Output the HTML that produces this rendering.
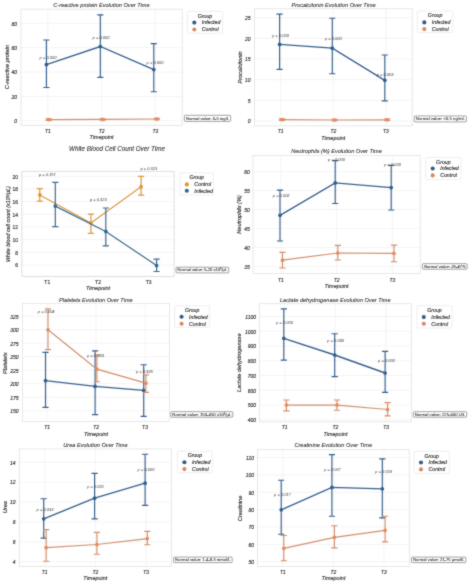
<!DOCTYPE html>
<html><head><meta charset="utf-8"><style>
html,body{margin:0;padding:0;background:#fff;}
svg{display:block;font-family:"Liberation Sans", sans-serif;}
text{stroke:#333;stroke-width:0.14px;}
</style></head><body>
<svg width="470" height="584" viewBox="0 0 470 584">
<defs><filter id="bl" x="0" y="0" width="470" height="584" filterUnits="userSpaceOnUse" color-interpolation-filters="sRGB"><feConvolveMatrix order="3" kernelMatrix="1 2 1 2 16 2 1 2 1" preserveAlpha="false" edgeMode="duplicate"/></filter></defs>
<rect width="470" height="584" fill="#fff"/>
<g filter="url(#bl)">
<rect width="470" height="584" fill="#fff"/>
<line x1="21" y1="120.8" x2="182.2" y2="120.8" stroke="#ededed" stroke-width="0.6"/>
<line x1="21" y1="96.45" x2="182.2" y2="96.45" stroke="#ededed" stroke-width="0.6"/>
<line x1="21" y1="72.1" x2="182.2" y2="72.1" stroke="#ededed" stroke-width="0.6"/>
<line x1="21" y1="47.75" x2="182.2" y2="47.75" stroke="#ededed" stroke-width="0.6"/>
<line x1="21" y1="23.4" x2="182.2" y2="23.4" stroke="#ededed" stroke-width="0.6"/>
<line x1="47.87" y1="9.2" x2="47.87" y2="125.3" stroke="#ededed" stroke-width="0.6"/>
<line x1="101.6" y1="9.2" x2="101.6" y2="125.3" stroke="#ededed" stroke-width="0.6"/>
<line x1="155.33" y1="9.2" x2="155.33" y2="125.3" stroke="#ededed" stroke-width="0.6"/>
<rect x="21" y="9.2" width="161.2" height="116.1" fill="none" stroke="#dedede" stroke-width="0.7"/>
<text transform="translate(17,123.1) scale(1,1.12)" text-anchor="end" font-size="5.0" font-style="italic" fill="#333333">0</text>
<text transform="translate(17,98.75) scale(1,1.12)" text-anchor="end" font-size="5.0" font-style="italic" fill="#333333">20</text>
<text transform="translate(17,74.4) scale(1,1.12)" text-anchor="end" font-size="5.0" font-style="italic" fill="#333333">40</text>
<text transform="translate(17,50.05) scale(1,1.12)" text-anchor="end" font-size="5.0" font-style="italic" fill="#333333">60</text>
<text transform="translate(17,25.7) scale(1,1.12)" text-anchor="end" font-size="5.0" font-style="italic" fill="#333333">80</text>
<text transform="translate(47.87,133) scale(1,1.12)" text-anchor="middle" font-size="5.0" font-style="italic" fill="#333333">T1</text>
<text transform="translate(101.6,133) scale(1,1.12)" text-anchor="middle" font-size="5.0" font-style="italic" fill="#333333">T2</text>
<text transform="translate(155.33,133) scale(1,1.12)" text-anchor="middle" font-size="5.0" font-style="italic" fill="#333333">T3</text>
<text transform="translate(101.6,138.6) scale(1,1.12)" text-anchor="middle" font-size="5.5" font-style="italic" fill="#333333">Timepoint</text>
<text transform="translate(8.5,67.25) rotate(-90) scale(1,1.12)" text-anchor="middle" font-size="5.6" font-style="italic" fill="#333333">C-reactive protein</text>
<text transform="translate(101.4,7.4) scale(1,1.12)" text-anchor="middle" font-size="5.6" font-style="italic" fill="#2a2a2a" style="stroke:#333;stroke-width:0.07px">C-reactive protein Evolution Over Time</text>
<path d="M46.4,40 L46.4,87.5 M43.3,40 L49.5,40 M43.3,87.5 L49.5,87.5 M100.3,14.8 L100.3,77.4 M97.2,14.8 L103.4,14.8 M97.2,77.4 L103.4,77.4 M153.8,43.6 L153.8,91.7 M150.7,43.6 L156.9,43.6 M150.7,91.7 L156.9,91.7" fill="none" stroke="#36608e" stroke-width="1.15"/>
<path d="M46.4,64.6 L100.3,46.5 L153.8,69.6" fill="none" stroke="#36608e" stroke-width="1.35"/>
<circle cx="46.4" cy="64.6" r="1.85" fill="#2e5d90"/>
<circle cx="100.3" cy="46.5" r="1.85" fill="#2e5d90"/>
<circle cx="153.8" cy="69.6" r="1.85" fill="#2e5d90"/>
<path d="M48.7,118.9 L48.7,120.3 M45.6,118.9 L51.8,118.9 M45.6,120.3 L51.8,120.3 M102.6,118.7 L102.6,120.1 M99.5,118.7 L105.7,118.7 M99.5,120.1 L105.7,120.1 M156.8,118.3 L156.8,119.7 M153.7,118.3 L159.9,118.3 M153.7,119.7 L159.9,119.7" fill="none" stroke="#d38f6b" stroke-width="1.15"/>
<path d="M48.7,119.6 L102.6,119.4 L156.8,119" fill="none" stroke="#d38f6b" stroke-width="1.2"/>
<circle cx="48.7" cy="119.6" r="1.85" fill="#e68a5c"/>
<circle cx="102.6" cy="119.4" r="1.85" fill="#e68a5c"/>
<circle cx="156.8" cy="119" r="1.85" fill="#e68a5c"/>
<text transform="translate(48,58.6) scale(1,0.95)" text-anchor="middle" font-size="4.0" font-style="italic" fill="#3a3a3a" style="stroke:none">p = 0.000</text>
<text transform="translate(101,39.2) scale(1,0.95)" text-anchor="middle" font-size="4.0" font-style="italic" fill="#3a3a3a" style="stroke:none">p = 0.000</text>
<text transform="translate(155,64) scale(1,0.95)" text-anchor="middle" font-size="4.0" font-style="italic" fill="#3a3a3a" style="stroke:none">p = 0.000</text>
<rect x="187.4" y="11.4" width="35.2" height="21.8" rx="1" fill="#fff" stroke="#e2e2e2" stroke-width="0.6"/>
<text transform="translate(205,17.5) scale(1,1.12)" text-anchor="middle" font-size="5.2" font-style="italic" fill="#333333">Group</text>
<circle cx="194.3" cy="22.6" r="2.05" fill="#335a85"/>
<text transform="translate(201.8,24.4) scale(1,1.12)" font-size="5.2" font-style="italic" fill="#333333">Infected</text>
<circle cx="194.3" cy="29.5" r="2.05" fill="#d68862"/>
<text transform="translate(201.8,31.3) scale(1,1.12)" font-size="5.2" font-style="italic" fill="#333333">Control</text>
<rect x="184.4" y="115.3" width="46.2" height="6.1" rx="0.9" fill="#fff" stroke="#555" stroke-width="0.55"/>
<text transform="translate(207.5,119.65) scale(1,1.0)" text-anchor="middle" font-size="3.9" font-style="normal" textLength="43.2" lengthAdjust="spacingAndGlyphs" fill="#222" style="stroke:#333;stroke-width:0.06px">Normal value: 0-5 mg/L</text>
<line x1="254.4" y1="121" x2="412.2" y2="121" stroke="#ededed" stroke-width="0.6"/>
<line x1="254.4" y1="100.34" x2="412.2" y2="100.34" stroke="#ededed" stroke-width="0.6"/>
<line x1="254.4" y1="79.68" x2="412.2" y2="79.68" stroke="#ededed" stroke-width="0.6"/>
<line x1="254.4" y1="59.02" x2="412.2" y2="59.02" stroke="#ededed" stroke-width="0.6"/>
<line x1="254.4" y1="38.36" x2="412.2" y2="38.36" stroke="#ededed" stroke-width="0.6"/>
<line x1="254.4" y1="17.7" x2="412.2" y2="17.7" stroke="#ededed" stroke-width="0.6"/>
<line x1="280.7" y1="8.8" x2="280.7" y2="125.9" stroke="#ededed" stroke-width="0.6"/>
<line x1="333.3" y1="8.8" x2="333.3" y2="125.9" stroke="#ededed" stroke-width="0.6"/>
<line x1="385.9" y1="8.8" x2="385.9" y2="125.9" stroke="#ededed" stroke-width="0.6"/>
<rect x="254.4" y="8.8" width="157.8" height="117.1" fill="none" stroke="#dedede" stroke-width="0.7"/>
<text transform="translate(250.6,123.3) scale(1,1.12)" text-anchor="end" font-size="5.0" font-style="italic" fill="#333333">0</text>
<text transform="translate(250.6,102.64) scale(1,1.12)" text-anchor="end" font-size="5.0" font-style="italic" fill="#333333">5</text>
<text transform="translate(250.6,81.98) scale(1,1.12)" text-anchor="end" font-size="5.0" font-style="italic" fill="#333333">10</text>
<text transform="translate(250.6,61.32) scale(1,1.12)" text-anchor="end" font-size="5.0" font-style="italic" fill="#333333">15</text>
<text transform="translate(250.6,40.66) scale(1,1.12)" text-anchor="end" font-size="5.0" font-style="italic" fill="#333333">20</text>
<text transform="translate(250.6,20) scale(1,1.12)" text-anchor="end" font-size="5.0" font-style="italic" fill="#333333">25</text>
<text transform="translate(280.7,132.8) scale(1,1.12)" text-anchor="middle" font-size="5.0" font-style="italic" fill="#333333">T1</text>
<text transform="translate(333.3,132.8) scale(1,1.12)" text-anchor="middle" font-size="5.0" font-style="italic" fill="#333333">T2</text>
<text transform="translate(385.9,132.8) scale(1,1.12)" text-anchor="middle" font-size="5.0" font-style="italic" fill="#333333">T3</text>
<text transform="translate(333.3,139.6) scale(1,1.12)" text-anchor="middle" font-size="5.5" font-style="italic" fill="#333333">Timepoint</text>
<text transform="translate(241.9,67.4) rotate(-90) scale(1,1.12)" text-anchor="middle" font-size="5.6" font-style="italic" fill="#333333">Procalcitonin</text>
<text transform="translate(333.6,6.6) scale(1,1.12)" text-anchor="middle" font-size="5.6" font-style="italic" fill="#2a2a2a" style="stroke:#333;stroke-width:0.07px">Procalcitonin Evolution Over Time</text>
<path d="M279.6,14.1 L279.6,69.3 M276.5,14.1 L282.7,14.1 M276.5,69.3 L282.7,69.3 M332.3,18.2 L332.3,73.7 M329.2,18.2 L335.4,18.2 M329.2,73.7 L335.4,73.7 M384.8,55 L384.8,100.8 M381.7,55 L387.9,55 M381.7,100.8 L387.9,100.8" fill="none" stroke="#36608e" stroke-width="1.15"/>
<path d="M279.6,44.4 L332.3,48.2 L384.8,80.3" fill="none" stroke="#36608e" stroke-width="1.35"/>
<circle cx="279.6" cy="44.4" r="1.85" fill="#2e5d90"/>
<circle cx="332.3" cy="48.2" r="1.85" fill="#2e5d90"/>
<circle cx="384.8" cy="80.3" r="1.85" fill="#2e5d90"/>
<path d="M282,118.9 L282,120.3 M278.9,118.9 L285.1,118.9 M278.9,120.3 L285.1,120.3 M334.6,119.3 L334.6,120.7 M331.5,119.3 L337.7,119.3 M331.5,120.7 L337.7,120.7 M387.2,119.1 L387.2,120.5 M384.1,119.1 L390.3,119.1 M384.1,120.5 L390.3,120.5" fill="none" stroke="#d38f6b" stroke-width="1.15"/>
<path d="M282,119.6 L334.6,120 L387.2,119.8" fill="none" stroke="#d38f6b" stroke-width="1.2"/>
<circle cx="282" cy="119.6" r="1.85" fill="#e68a5c"/>
<circle cx="334.6" cy="120" r="1.85" fill="#e68a5c"/>
<circle cx="387.2" cy="119.8" r="1.85" fill="#e68a5c"/>
<text transform="translate(280.6,36.8) scale(1,0.95)" text-anchor="middle" font-size="4.0" font-style="italic" fill="#3a3a3a" style="stroke:none">p = 0.000</text>
<text transform="translate(333.4,40.4) scale(1,0.95)" text-anchor="middle" font-size="4.0" font-style="italic" fill="#3a3a3a" style="stroke:none">p = 0.000</text>
<text transform="translate(385.1,75.8) scale(1,0.95)" text-anchor="middle" font-size="4.0" font-style="italic" fill="#3a3a3a" style="stroke:none">p = 0.003</text>
<rect x="417.4" y="11.1" width="35.4" height="21.5" rx="1" fill="#fff" stroke="#e2e2e2" stroke-width="0.6"/>
<text transform="translate(435.1,16.9) scale(1,1.12)" text-anchor="middle" font-size="5.2" font-style="italic" fill="#333333">Group</text>
<circle cx="424.3" cy="22.4" r="2.05" fill="#335a85"/>
<text transform="translate(431.8,24.2) scale(1,1.12)" font-size="5.2" font-style="italic" fill="#333333">Infected</text>
<circle cx="424.3" cy="29.1" r="2.05" fill="#d68862"/>
<text transform="translate(431.8,30.9) scale(1,1.12)" font-size="5.2" font-style="italic" fill="#333333">Control</text>
<rect x="414.3" y="116" width="52.1" height="5.9" rx="0.9" fill="#fff" stroke="#555" stroke-width="0.55"/>
<text transform="translate(440.35,120.25) scale(1,1.0)" text-anchor="middle" font-size="3.9" font-style="normal" textLength="49.1" lengthAdjust="spacingAndGlyphs" fill="#222" style="stroke:#333;stroke-width:0.06px">Normal value: &lt;0.5 ng/mL</text>
<line x1="21.9" y1="265.1" x2="174.1" y2="265.1" stroke="#ededed" stroke-width="0.6"/>
<line x1="21.9" y1="252.4" x2="174.1" y2="252.4" stroke="#ededed" stroke-width="0.6"/>
<line x1="21.9" y1="239.7" x2="174.1" y2="239.7" stroke="#ededed" stroke-width="0.6"/>
<line x1="21.9" y1="227" x2="174.1" y2="227" stroke="#ededed" stroke-width="0.6"/>
<line x1="21.9" y1="214.3" x2="174.1" y2="214.3" stroke="#ededed" stroke-width="0.6"/>
<line x1="21.9" y1="201.6" x2="174.1" y2="201.6" stroke="#ededed" stroke-width="0.6"/>
<line x1="21.9" y1="188.9" x2="174.1" y2="188.9" stroke="#ededed" stroke-width="0.6"/>
<line x1="21.9" y1="176.2" x2="174.1" y2="176.2" stroke="#ededed" stroke-width="0.6"/>
<rect x="21.9" y="171.3" width="152.2" height="105.1" fill="none" stroke="#d2d2d2" stroke-width="0.7"/>
<text transform="translate(18,267.4) scale(1,1.12)" text-anchor="end" font-size="5.0" font-style="normal" fill="#333333">6</text>
<text transform="translate(18,254.7) scale(1,1.12)" text-anchor="end" font-size="5.0" font-style="normal" fill="#333333">8</text>
<text transform="translate(18,242) scale(1,1.12)" text-anchor="end" font-size="5.0" font-style="normal" fill="#333333">10</text>
<text transform="translate(18,229.3) scale(1,1.12)" text-anchor="end" font-size="5.0" font-style="normal" fill="#333333">12</text>
<text transform="translate(18,216.6) scale(1,1.12)" text-anchor="end" font-size="5.0" font-style="normal" fill="#333333">14</text>
<text transform="translate(18,203.9) scale(1,1.12)" text-anchor="end" font-size="5.0" font-style="normal" fill="#333333">16</text>
<text transform="translate(18,191.2) scale(1,1.12)" text-anchor="end" font-size="5.0" font-style="normal" fill="#333333">18</text>
<text transform="translate(18,178.5) scale(1,1.12)" text-anchor="end" font-size="5.0" font-style="normal" fill="#333333">20</text>
<text transform="translate(47.27,283.7) scale(1,1.12)" text-anchor="middle" font-size="5.0" font-style="normal" fill="#333333">T1</text>
<text transform="translate(98,283.7) scale(1,1.12)" text-anchor="middle" font-size="5.0" font-style="normal" fill="#333333">T2</text>
<text transform="translate(148.73,283.7) scale(1,1.12)" text-anchor="middle" font-size="5.0" font-style="normal" fill="#333333">T3</text>
<text transform="translate(98,290) scale(1,1.12)" text-anchor="middle" font-size="5.5" font-style="italic" fill="#333333">Timepoint</text>
<text transform="translate(10.1,224.1) rotate(-90) scale(1,1.12)" text-anchor="middle" font-size="5.4" font-style="italic" fill="#333333">White blood cell count (x10³/µL)</text>
<text transform="translate(117,150.8) scale(1,1.12)" text-anchor="middle" font-size="6.3" font-style="italic" fill="#2a2a2a" style="stroke:#333;stroke-width:0.07px">White Blood Cell Count Over Time</text>
<path d="M39.8,188.6 L39.8,201.1 M36.7,188.6 L42.9,188.6 M36.7,201.1 L42.9,201.1 M90.9,214 L90.9,233.4 M87.8,214 L94,214 M87.8,233.4 L94,233.4 M141.1,176.4 L141.1,195.1 M138,176.4 L144.2,176.4 M138,195.1 L144.2,195.1" fill="none" stroke="#dc9a45" stroke-width="1.25"/>
<path d="M39.8,194.9 L90.9,223 L141.1,186.7" fill="none" stroke="#dc9a45" stroke-width="1.15"/>
<circle cx="39.8" cy="194.9" r="1.85" fill="#e0952a"/>
<circle cx="90.9" cy="223" r="1.85" fill="#e0952a"/>
<circle cx="141.1" cy="186.7" r="1.85" fill="#e0952a"/>
<path d="M55.3,182.4 L55.3,226.7 M52.2,182.4 L58.4,182.4 M52.2,226.7 L58.4,226.7 M105.8,208 L105.8,245.9 M102.7,208 L108.9,208 M102.7,245.9 L108.9,245.9 M156.6,259.1 L156.6,271.5 M153.5,259.1 L159.7,259.1 M153.5,271.5 L159.7,271.5" fill="none" stroke="#3a6d93" stroke-width="1.2"/>
<path d="M55.3,206.1 L105.8,231.4 L156.6,265.5" fill="none" stroke="#3a6d93" stroke-width="1.2"/>
<circle cx="55.3" cy="206.1" r="1.85" fill="#2a6a95"/>
<circle cx="105.8" cy="231.4" r="1.85" fill="#2a6a95"/>
<circle cx="156.6" cy="265.5" r="1.85" fill="#2a6a95"/>
<text transform="translate(47.3,175.8) scale(1,0.95)" text-anchor="middle" font-size="4.0" font-style="normal" fill="#3a3a3a" style="stroke:none">p = 0.197</text>
<text transform="translate(98.3,201.2) scale(1,0.95)" text-anchor="middle" font-size="4.0" font-style="normal" fill="#3a3a3a" style="stroke:none">p = 0.323</text>
<text transform="translate(148.9,169.5) scale(1,0.95)" text-anchor="middle" font-size="4.0" font-style="normal" fill="#3a3a3a" style="stroke:none">p = 0.323</text>
<rect x="179.9" y="172.9" width="33.6" height="22.2" rx="1" fill="#fff" stroke="#e2e2e2" stroke-width="0.6"/>
<text transform="translate(196.7,179.1) scale(1,1.12)" text-anchor="middle" font-size="5.2" font-style="italic" fill="#333333">Group</text>
<circle cx="186.8" cy="184.4" r="2.05" fill="#e0952a"/>
<text transform="translate(194.3,186.2) scale(1,1.12)" font-size="5.2" font-style="italic" fill="#333333">Control</text>
<circle cx="186.8" cy="190.7" r="2.05" fill="#2a6a95"/>
<text transform="translate(194.3,192.5) scale(1,1.12)" font-size="5.2" font-style="italic" fill="#333333">Infected</text>
<rect x="176.1" y="267.2" width="52.6" height="5.7" rx="0.9" fill="#fff" stroke="#555" stroke-width="0.55"/>
<text transform="translate(202.4,271.35) scale(1,1.0)" text-anchor="middle" font-size="3.9" font-style="normal" textLength="49.6" lengthAdjust="spacingAndGlyphs" fill="#222" style="stroke:#333;stroke-width:0.06px">Normal value: 5-20 x10³/µL</text>
<line x1="253" y1="266.4" x2="420.2" y2="266.4" stroke="#ededed" stroke-width="0.6"/>
<line x1="253" y1="247.44" x2="420.2" y2="247.44" stroke="#ededed" stroke-width="0.6"/>
<line x1="253" y1="228.48" x2="420.2" y2="228.48" stroke="#ededed" stroke-width="0.6"/>
<line x1="253" y1="209.52" x2="420.2" y2="209.52" stroke="#ededed" stroke-width="0.6"/>
<line x1="253" y1="190.56" x2="420.2" y2="190.56" stroke="#ededed" stroke-width="0.6"/>
<line x1="253" y1="171.6" x2="420.2" y2="171.6" stroke="#ededed" stroke-width="0.6"/>
<line x1="280.87" y1="155.6" x2="280.87" y2="273.6" stroke="#ededed" stroke-width="0.6"/>
<line x1="336.6" y1="155.6" x2="336.6" y2="273.6" stroke="#ededed" stroke-width="0.6"/>
<line x1="392.33" y1="155.6" x2="392.33" y2="273.6" stroke="#ededed" stroke-width="0.6"/>
<rect x="253" y="155.6" width="167.2" height="118" fill="none" stroke="#dedede" stroke-width="0.7"/>
<text transform="translate(249.8,268.7) scale(1,1.12)" text-anchor="end" font-size="5.0" font-style="italic" fill="#333333">35</text>
<text transform="translate(249.8,249.74) scale(1,1.12)" text-anchor="end" font-size="5.0" font-style="italic" fill="#333333">40</text>
<text transform="translate(249.8,230.78) scale(1,1.12)" text-anchor="end" font-size="5.0" font-style="italic" fill="#333333">45</text>
<text transform="translate(249.8,211.82) scale(1,1.12)" text-anchor="end" font-size="5.0" font-style="italic" fill="#333333">50</text>
<text transform="translate(249.8,192.86) scale(1,1.12)" text-anchor="end" font-size="5.0" font-style="italic" fill="#333333">55</text>
<text transform="translate(249.8,173.9) scale(1,1.12)" text-anchor="end" font-size="5.0" font-style="italic" fill="#333333">60</text>
<text transform="translate(280.87,282) scale(1,1.12)" text-anchor="middle" font-size="5.0" font-style="italic" fill="#333333">T1</text>
<text transform="translate(336.6,282) scale(1,1.12)" text-anchor="middle" font-size="5.0" font-style="italic" fill="#333333">T2</text>
<text transform="translate(392.33,282) scale(1,1.12)" text-anchor="middle" font-size="5.0" font-style="italic" fill="#333333">T3</text>
<text transform="translate(336.6,288) scale(1,1.12)" text-anchor="middle" font-size="5.5" font-style="italic" fill="#333333">Timepoint</text>
<text transform="translate(240.8,214.5) rotate(-90) scale(1,1.12)" text-anchor="middle" font-size="5.6" font-style="italic" fill="#333333">Neutrophils (%)</text>
<text transform="translate(336.5,153) scale(1,1.12)" text-anchor="middle" font-size="5.6" font-style="italic" fill="#2a2a2a" style="stroke:#333;stroke-width:0.07px">Neutrophils (%) Evolution Over Time</text>
<path d="M280,190.1 L280,241 M276.9,190.1 L283.1,190.1 M276.9,241 L283.1,241 M335.2,160.6 L335.2,203.5 M332.1,160.6 L338.3,160.6 M332.1,203.5 L338.3,203.5 M391.2,165.4 L391.2,210 M388.1,165.4 L394.3,165.4 M388.1,210 L394.3,210" fill="none" stroke="#36608e" stroke-width="1.15"/>
<path d="M280,215.3 L335.2,182.9 L391.2,187.6" fill="none" stroke="#36608e" stroke-width="1.35"/>
<circle cx="280" cy="215.3" r="1.85" fill="#2e5d90"/>
<circle cx="335.2" cy="182.9" r="1.85" fill="#2e5d90"/>
<circle cx="391.2" cy="187.6" r="1.85" fill="#2e5d90"/>
<path d="M282.5,252.3 L282.5,268 M279.4,252.3 L285.6,252.3 M279.4,268 L285.6,268 M337.8,245.3 L337.8,260 M334.7,245.3 L340.9,245.3 M334.7,260 L340.9,260 M394,245.1 L394,261.7 M390.9,245.1 L397.1,245.1 M390.9,261.7 L397.1,261.7" fill="none" stroke="#d38f6b" stroke-width="1.15"/>
<path d="M282.5,260.2 L337.8,253 L394,253.4" fill="none" stroke="#d38f6b" stroke-width="1.2"/>
<circle cx="282.5" cy="260.2" r="1.85" fill="#e68a5c"/>
<circle cx="337.8" cy="253" r="1.85" fill="#e68a5c"/>
<circle cx="394" cy="253.4" r="1.85" fill="#e68a5c"/>
<text transform="translate(281.2,196.7) scale(1,0.95)" text-anchor="middle" font-size="4.0" font-style="italic" fill="#3a3a3a" style="stroke:none">p = 0.002</text>
<text transform="translate(336.5,160.9) scale(1,0.95)" text-anchor="middle" font-size="4.0" font-style="italic" fill="#3a3a3a" style="stroke:none">p = 0.000</text>
<text transform="translate(392.6,166.3) scale(1,0.95)" text-anchor="middle" font-size="4.0" font-style="italic" fill="#3a3a3a" style="stroke:none">p = 0.000</text>
<rect x="425.8" y="157.4" width="35.1" height="22.2" rx="1" fill="#fff" stroke="#e2e2e2" stroke-width="0.6"/>
<text transform="translate(443.35,163.5) scale(1,1.12)" text-anchor="middle" font-size="5.2" font-style="italic" fill="#333333">Group</text>
<circle cx="432.7" cy="168.5" r="2.05" fill="#335a85"/>
<text transform="translate(440.2,170.3) scale(1,1.12)" font-size="5.2" font-style="italic" fill="#333333">Infected</text>
<circle cx="432.7" cy="175.4" r="2.05" fill="#d68862"/>
<text transform="translate(440.2,177.2) scale(1,1.12)" font-size="5.2" font-style="italic" fill="#333333">Control</text>
<rect x="422.4" y="263.7" width="44.8" height="5.5" rx="0.9" fill="#fff" stroke="#555" stroke-width="0.55"/>
<text transform="translate(444.8,267.75) scale(1,1.0)" text-anchor="middle" font-size="3.9" font-style="italic" textLength="41.8" lengthAdjust="spacingAndGlyphs" fill="#222" style="stroke:#333;stroke-width:0.06px">Normal value: 25-47%</text>
<line x1="22.6" y1="410.8" x2="169.5" y2="410.8" stroke="#ededed" stroke-width="0.6"/>
<line x1="22.6" y1="397.29" x2="169.5" y2="397.29" stroke="#ededed" stroke-width="0.6"/>
<line x1="22.6" y1="383.77" x2="169.5" y2="383.77" stroke="#ededed" stroke-width="0.6"/>
<line x1="22.6" y1="370.26" x2="169.5" y2="370.26" stroke="#ededed" stroke-width="0.6"/>
<line x1="22.6" y1="356.74" x2="169.5" y2="356.74" stroke="#ededed" stroke-width="0.6"/>
<line x1="22.6" y1="343.23" x2="169.5" y2="343.23" stroke="#ededed" stroke-width="0.6"/>
<line x1="22.6" y1="329.71" x2="169.5" y2="329.71" stroke="#ededed" stroke-width="0.6"/>
<line x1="22.6" y1="316.2" x2="169.5" y2="316.2" stroke="#ededed" stroke-width="0.6"/>
<line x1="47.08" y1="303.4" x2="47.08" y2="421.5" stroke="#ededed" stroke-width="0.6"/>
<line x1="96.05" y1="303.4" x2="96.05" y2="421.5" stroke="#ededed" stroke-width="0.6"/>
<line x1="145.02" y1="303.4" x2="145.02" y2="421.5" stroke="#ededed" stroke-width="0.6"/>
<rect x="22.6" y="303.4" width="146.9" height="118.1" fill="none" stroke="#dedede" stroke-width="0.7"/>
<text transform="translate(18.5,413.1) scale(1,1.12)" text-anchor="end" font-size="5.0" font-style="italic" fill="#333333">150</text>
<text transform="translate(18.5,399.59) scale(1,1.12)" text-anchor="end" font-size="5.0" font-style="italic" fill="#333333">175</text>
<text transform="translate(18.5,386.07) scale(1,1.12)" text-anchor="end" font-size="5.0" font-style="italic" fill="#333333">200</text>
<text transform="translate(18.5,372.56) scale(1,1.12)" text-anchor="end" font-size="5.0" font-style="italic" fill="#333333">225</text>
<text transform="translate(18.5,359.04) scale(1,1.12)" text-anchor="end" font-size="5.0" font-style="italic" fill="#333333">250</text>
<text transform="translate(18.5,345.53) scale(1,1.12)" text-anchor="end" font-size="5.0" font-style="italic" fill="#333333">275</text>
<text transform="translate(18.5,332.01) scale(1,1.12)" text-anchor="end" font-size="5.0" font-style="italic" fill="#333333">300</text>
<text transform="translate(18.5,318.5) scale(1,1.12)" text-anchor="end" font-size="5.0" font-style="italic" fill="#333333">325</text>
<text transform="translate(47.08,428.8) scale(1,1.12)" text-anchor="middle" font-size="5.0" font-style="italic" fill="#333333">T1</text>
<text transform="translate(96.05,428.8) scale(1,1.12)" text-anchor="middle" font-size="5.0" font-style="italic" fill="#333333">T2</text>
<text transform="translate(145.02,428.8) scale(1,1.12)" text-anchor="middle" font-size="5.0" font-style="italic" fill="#333333">T3</text>
<text transform="translate(96.05,435.6) scale(1,1.12)" text-anchor="middle" font-size="5.5" font-style="italic" fill="#333333">Timepoint</text>
<text transform="translate(7,363.2) rotate(-90) scale(1,1.12)" text-anchor="middle" font-size="5.6" font-style="italic" fill="#333333">Platelets</text>
<text transform="translate(95.9,301.5) scale(1,1.12)" text-anchor="middle" font-size="5.6" font-style="italic" fill="#2a2a2a" style="stroke:#333;stroke-width:0.07px">Platelets Evolution Over Time</text>
<path d="M45.5,352.4 L45.5,407.4 M42.4,352.4 L48.6,352.4 M42.4,407.4 L48.6,407.4 M95.1,350.9 L95.1,414.6 M92,350.9 L98.2,350.9 M92,414.6 L98.2,414.6 M143.7,364.7 L143.7,416.4 M140.6,364.7 L146.8,364.7 M140.6,416.4 L146.8,416.4" fill="none" stroke="#36608e" stroke-width="1.15"/>
<path d="M45.5,380.7 L95.1,386.4 L143.7,390.4" fill="none" stroke="#36608e" stroke-width="1.35"/>
<circle cx="45.5" cy="380.7" r="1.85" fill="#2e5d90"/>
<circle cx="95.1" cy="386.4" r="1.85" fill="#2e5d90"/>
<circle cx="143.7" cy="390.4" r="1.85" fill="#2e5d90"/>
<path d="M48,308.8 L48,349.6 M44.9,308.8 L51.1,308.8 M44.9,349.6 L51.1,349.6 M96.9,355 L96.9,381.7 M93.8,355 L100,355 M93.8,381.7 L100,381.7 M145.9,374.9 L145.9,392.4 M142.8,374.9 L149,374.9 M142.8,392.4 L149,392.4" fill="none" stroke="#d38f6b" stroke-width="1.15"/>
<path d="M48,329.8 L96.9,369.1 L145.9,383.2" fill="none" stroke="#d38f6b" stroke-width="1.2"/>
<circle cx="48" cy="329.8" r="1.85" fill="#e68a5c"/>
<circle cx="96.9" cy="369.1" r="1.85" fill="#e68a5c"/>
<circle cx="145.9" cy="383.2" r="1.85" fill="#e68a5c"/>
<text transform="translate(46.2,313.3) scale(1,0.95)" text-anchor="middle" font-size="4.0" font-style="italic" fill="#3a3a3a" style="stroke:none">p = 0.004</text>
<text transform="translate(95.6,357.2) scale(1,0.95)" text-anchor="middle" font-size="4.0" font-style="italic" fill="#3a3a3a" style="stroke:none">p = 0.933</text>
<text transform="translate(144.3,372.5) scale(1,0.95)" text-anchor="middle" font-size="4.0" font-style="italic" fill="#3a3a3a" style="stroke:none">p = 0.326</text>
<rect x="174.7" y="306" width="34.9" height="21.3" rx="1" fill="#fff" stroke="#e2e2e2" stroke-width="0.6"/>
<text transform="translate(192.15,311.8) scale(1,1.12)" text-anchor="middle" font-size="5.2" font-style="italic" fill="#333333">Group</text>
<circle cx="181.6" cy="316.8" r="2.05" fill="#335a85"/>
<text transform="translate(189.1,318.6) scale(1,1.12)" font-size="5.2" font-style="italic" fill="#333333">Infected</text>
<circle cx="181.6" cy="323.7" r="2.05" fill="#d68862"/>
<text transform="translate(189.1,325.5) scale(1,1.12)" font-size="5.2" font-style="italic" fill="#333333">Control</text>
<rect x="170.8" y="411.7" width="62" height="5.5" rx="0.9" fill="#fff" stroke="#555" stroke-width="0.55"/>
<text transform="translate(201.8,415.75) scale(1,1.0)" text-anchor="middle" font-size="3.9" font-style="normal" textLength="59" lengthAdjust="spacingAndGlyphs" fill="#222" style="stroke:#333;stroke-width:0.06px">Normal value: 150-450 x10³/µL</text>
<line x1="259.4" y1="419.8" x2="411.4" y2="419.8" stroke="#ededed" stroke-width="0.6"/>
<line x1="259.4" y1="405.04" x2="411.4" y2="405.04" stroke="#ededed" stroke-width="0.6"/>
<line x1="259.4" y1="390.29" x2="411.4" y2="390.29" stroke="#ededed" stroke-width="0.6"/>
<line x1="259.4" y1="375.53" x2="411.4" y2="375.53" stroke="#ededed" stroke-width="0.6"/>
<line x1="259.4" y1="360.77" x2="411.4" y2="360.77" stroke="#ededed" stroke-width="0.6"/>
<line x1="259.4" y1="346.01" x2="411.4" y2="346.01" stroke="#ededed" stroke-width="0.6"/>
<line x1="259.4" y1="331.26" x2="411.4" y2="331.26" stroke="#ededed" stroke-width="0.6"/>
<line x1="259.4" y1="316.5" x2="411.4" y2="316.5" stroke="#ededed" stroke-width="0.6"/>
<line x1="284.73" y1="303.7" x2="284.73" y2="421.8" stroke="#ededed" stroke-width="0.6"/>
<line x1="335.4" y1="303.7" x2="335.4" y2="421.8" stroke="#ededed" stroke-width="0.6"/>
<line x1="386.07" y1="303.7" x2="386.07" y2="421.8" stroke="#ededed" stroke-width="0.6"/>
<rect x="259.4" y="303.7" width="152" height="118.1" fill="none" stroke="#dedede" stroke-width="0.7"/>
<text transform="translate(256,422.1) scale(1,1.12)" text-anchor="end" font-size="5.0" font-style="italic" fill="#333333">400</text>
<text transform="translate(256,407.34) scale(1,1.12)" text-anchor="end" font-size="5.0" font-style="italic" fill="#333333">500</text>
<text transform="translate(256,392.59) scale(1,1.12)" text-anchor="end" font-size="5.0" font-style="italic" fill="#333333">600</text>
<text transform="translate(256,377.83) scale(1,1.12)" text-anchor="end" font-size="5.0" font-style="italic" fill="#333333">700</text>
<text transform="translate(256,363.07) scale(1,1.12)" text-anchor="end" font-size="5.0" font-style="italic" fill="#333333">800</text>
<text transform="translate(256,348.31) scale(1,1.12)" text-anchor="end" font-size="5.0" font-style="italic" fill="#333333">900</text>
<text transform="translate(256,333.56) scale(1,1.12)" text-anchor="end" font-size="5.0" font-style="italic" fill="#333333">1000</text>
<text transform="translate(256,318.8) scale(1,1.12)" text-anchor="end" font-size="5.0" font-style="italic" fill="#333333">1100</text>
<text transform="translate(284.73,428.8) scale(1,1.12)" text-anchor="middle" font-size="5.0" font-style="italic" fill="#333333">T1</text>
<text transform="translate(335.4,428.8) scale(1,1.12)" text-anchor="middle" font-size="5.0" font-style="italic" fill="#333333">T2</text>
<text transform="translate(386.07,428.8) scale(1,1.12)" text-anchor="middle" font-size="5.0" font-style="italic" fill="#333333">T3</text>
<text transform="translate(335.4,435.6) scale(1,1.12)" text-anchor="middle" font-size="5.5" font-style="italic" fill="#333333">Timepoint</text>
<text transform="translate(241.3,362.7) rotate(-90) scale(1,1.12)" text-anchor="middle" font-size="5.6" font-style="italic" fill="#333333">Lactate dehydrogenase</text>
<text transform="translate(335.3,301.5) scale(1,1.12)" text-anchor="middle" font-size="5.6" font-style="italic" fill="#2a2a2a" style="stroke:#333;stroke-width:0.07px">Lactate dehydrogenase Evolution Over Time</text>
<path d="M283.8,308.8 L283.8,360.1 M280.7,308.8 L286.9,308.8 M280.7,360.1 L286.9,360.1 M334.7,333.7 L334.7,376.6 M331.6,333.7 L337.8,333.7 M331.6,376.6 L337.8,376.6 M385.1,351.4 L385.1,392.4 M382,351.4 L388.2,351.4 M382,392.4 L388.2,392.4" fill="none" stroke="#36608e" stroke-width="1.15"/>
<path d="M283.8,338.3 L334.7,355 L385.1,373" fill="none" stroke="#36608e" stroke-width="1.35"/>
<circle cx="283.8" cy="338.3" r="1.85" fill="#2e5d90"/>
<circle cx="334.7" cy="355" r="1.85" fill="#2e5d90"/>
<circle cx="385.1" cy="373" r="1.85" fill="#2e5d90"/>
<path d="M286.4,400 L286.4,410.8 M283.3,400 L289.5,400 M283.3,410.8 L289.5,410.8 M337,400 L337,410.2 M333.9,400 L340.1,400 M333.9,410.2 L340.1,410.2 M387.6,402.6 L387.6,415.9 M384.5,402.6 L390.7,402.6 M384.5,415.9 L390.7,415.9" fill="none" stroke="#d38f6b" stroke-width="1.15"/>
<path d="M286.4,405.1 L337,405.1 L387.6,409.5" fill="none" stroke="#d38f6b" stroke-width="1.2"/>
<circle cx="286.4" cy="405.1" r="1.85" fill="#e68a5c"/>
<circle cx="337" cy="405.1" r="1.85" fill="#e68a5c"/>
<circle cx="387.6" cy="409.5" r="1.85" fill="#e68a5c"/>
<text transform="translate(284.6,323.8) scale(1,0.95)" text-anchor="middle" font-size="4.0" font-style="italic" fill="#3a3a3a" style="stroke:none">p = 0.000</text>
<text transform="translate(335.7,342.3) scale(1,0.95)" text-anchor="middle" font-size="4.0" font-style="italic" fill="#3a3a3a" style="stroke:none">p = 0.000</text>
<text transform="translate(386.5,362.3) scale(1,0.95)" text-anchor="middle" font-size="4.0" font-style="italic" fill="#3a3a3a" style="stroke:none">p = 0.002</text>
<rect x="416.9" y="305.8" width="35.1" height="22.1" rx="1" fill="#fff" stroke="#e2e2e2" stroke-width="0.6"/>
<text transform="translate(434.45,311.8) scale(1,1.12)" text-anchor="middle" font-size="5.2" font-style="italic" fill="#333333">Group</text>
<circle cx="423.8" cy="317.1" r="2.05" fill="#335a85"/>
<text transform="translate(431.3,318.9) scale(1,1.12)" font-size="5.2" font-style="italic" fill="#333333">Infected</text>
<circle cx="423.8" cy="323.7" r="2.05" fill="#d68862"/>
<text transform="translate(431.3,325.5) scale(1,1.12)" font-size="5.2" font-style="italic" fill="#333333">Control</text>
<rect x="413.3" y="411.7" width="53.4" height="5.5" rx="0.9" fill="#fff" stroke="#555" stroke-width="0.55"/>
<text transform="translate(440,415.75) scale(1,1.0)" text-anchor="middle" font-size="3.9" font-style="normal" textLength="50.4" lengthAdjust="spacingAndGlyphs" fill="#222" style="stroke:#333;stroke-width:0.06px">Normal value: 225-600 U/L</text>
<line x1="19.3" y1="561.7" x2="171.4" y2="561.7" stroke="#ededed" stroke-width="0.6"/>
<line x1="19.3" y1="541.82" x2="171.4" y2="541.82" stroke="#ededed" stroke-width="0.6"/>
<line x1="19.3" y1="521.94" x2="171.4" y2="521.94" stroke="#ededed" stroke-width="0.6"/>
<line x1="19.3" y1="502.06" x2="171.4" y2="502.06" stroke="#ededed" stroke-width="0.6"/>
<line x1="19.3" y1="482.18" x2="171.4" y2="482.18" stroke="#ededed" stroke-width="0.6"/>
<line x1="19.3" y1="462.3" x2="171.4" y2="462.3" stroke="#ededed" stroke-width="0.6"/>
<line x1="44.65" y1="448.9" x2="44.65" y2="566.3" stroke="#ededed" stroke-width="0.6"/>
<line x1="95.35" y1="448.9" x2="95.35" y2="566.3" stroke="#ededed" stroke-width="0.6"/>
<line x1="146.05" y1="448.9" x2="146.05" y2="566.3" stroke="#ededed" stroke-width="0.6"/>
<rect x="19.3" y="448.9" width="152.1" height="117.4" fill="none" stroke="#dedede" stroke-width="0.7"/>
<text transform="translate(15.5,564) scale(1,1.12)" text-anchor="end" font-size="5.0" font-style="italic" fill="#333333">4</text>
<text transform="translate(15.5,544.12) scale(1,1.12)" text-anchor="end" font-size="5.0" font-style="italic" fill="#333333">6</text>
<text transform="translate(15.5,524.24) scale(1,1.12)" text-anchor="end" font-size="5.0" font-style="italic" fill="#333333">8</text>
<text transform="translate(15.5,504.36) scale(1,1.12)" text-anchor="end" font-size="5.0" font-style="italic" fill="#333333">10</text>
<text transform="translate(15.5,484.48) scale(1,1.12)" text-anchor="end" font-size="5.0" font-style="italic" fill="#333333">12</text>
<text transform="translate(15.5,464.6) scale(1,1.12)" text-anchor="end" font-size="5.0" font-style="italic" fill="#333333">14</text>
<text transform="translate(44.65,574) scale(1,1.12)" text-anchor="middle" font-size="5.0" font-style="italic" fill="#333333">T1</text>
<text transform="translate(95.35,574) scale(1,1.12)" text-anchor="middle" font-size="5.0" font-style="italic" fill="#333333">T2</text>
<text transform="translate(146.05,574) scale(1,1.12)" text-anchor="middle" font-size="5.0" font-style="italic" fill="#333333">T3</text>
<text transform="translate(95.35,580.4) scale(1,1.12)" text-anchor="middle" font-size="5.5" font-style="italic" fill="#333333">Timepoint</text>
<text transform="translate(7,507.2) rotate(-90) scale(1,1.12)" text-anchor="middle" font-size="5.6" font-style="italic" fill="#333333">Urea</text>
<text transform="translate(95.4,446.7) scale(1,1.12)" text-anchor="middle" font-size="5.6" font-style="italic" fill="#2a2a2a" style="stroke:#333;stroke-width:0.07px">Urea Evolution Over Time</text>
<path d="M43.7,498.7 L43.7,538.1 M40.6,498.7 L46.8,498.7 M40.6,538.1 L46.8,538.1 M94.6,473.3 L94.6,518.8 M91.5,473.3 L97.7,473.3 M91.5,518.8 L97.7,518.8 M145.1,454.2 L145.1,505.4 M142,454.2 L148.2,454.2 M142,505.4 L148.2,505.4" fill="none" stroke="#36608e" stroke-width="1.15"/>
<path d="M43.7,518.8 L94.6,498.2 L145.1,483.2" fill="none" stroke="#36608e" stroke-width="1.35"/>
<circle cx="43.7" cy="518.8" r="1.85" fill="#2e5d90"/>
<circle cx="94.6" cy="498.2" r="1.85" fill="#2e5d90"/>
<circle cx="145.1" cy="483.2" r="1.85" fill="#2e5d90"/>
<path d="M46.2,529.6 L46.2,561.2 M43.1,529.6 L49.3,529.6 M43.1,561.2 L49.3,561.2 M96.9,532.4 L96.9,554.2 M93.8,532.4 L100,532.4 M93.8,554.2 L100,554.2 M147.3,531.4 L147.3,544.7 M144.2,531.4 L150.4,531.4 M144.2,544.7 L150.4,544.7" fill="none" stroke="#d38f6b" stroke-width="1.15"/>
<path d="M46.2,547.6 L96.9,544.5 L147.3,538.6" fill="none" stroke="#d38f6b" stroke-width="1.2"/>
<circle cx="46.2" cy="547.6" r="1.85" fill="#e68a5c"/>
<circle cx="96.9" cy="544.5" r="1.85" fill="#e68a5c"/>
<circle cx="147.3" cy="538.6" r="1.85" fill="#e68a5c"/>
<text transform="translate(45,510.7) scale(1,0.95)" text-anchor="middle" font-size="4.0" font-style="italic" fill="#3a3a3a" style="stroke:none">p = 0.033</text>
<text transform="translate(95.6,488.1) scale(1,0.95)" text-anchor="middle" font-size="4.0" font-style="italic" fill="#3a3a3a" style="stroke:none">p = 0.001</text>
<text transform="translate(146,470.9) scale(1,0.95)" text-anchor="middle" font-size="4.0" font-style="italic" fill="#3a3a3a" style="stroke:none">p = 0.000</text>
<rect x="177.5" y="451.2" width="34.8" height="21.5" rx="1" fill="#fff" stroke="#e2e2e2" stroke-width="0.6"/>
<text transform="translate(194.9,457.2) scale(1,1.12)" text-anchor="middle" font-size="5.2" font-style="italic" fill="#333333">Group</text>
<circle cx="184.4" cy="462.2" r="2.05" fill="#335a85"/>
<text transform="translate(191.9,464) scale(1,1.12)" font-size="5.2" font-style="italic" fill="#333333">Infected</text>
<circle cx="184.4" cy="469.1" r="2.05" fill="#d68862"/>
<text transform="translate(191.9,470.9) scale(1,1.12)" font-size="5.2" font-style="italic" fill="#333333">Control</text>
<rect x="173.6" y="557.1" width="58.6" height="5.5" rx="0.9" fill="#fff" stroke="#555" stroke-width="0.55"/>
<text transform="translate(202.9,561.15) scale(1,1.0)" text-anchor="middle" font-size="3.9" font-style="normal" textLength="55.6" lengthAdjust="spacingAndGlyphs" fill="#222" style="stroke:#333;stroke-width:0.06px">Normal value: 1.4-8.3 mmol/L</text>
<line x1="257.6" y1="561.7" x2="409.2" y2="561.7" stroke="#ededed" stroke-width="0.6"/>
<line x1="257.6" y1="544.35" x2="409.2" y2="544.35" stroke="#ededed" stroke-width="0.6"/>
<line x1="257.6" y1="527" x2="409.2" y2="527" stroke="#ededed" stroke-width="0.6"/>
<line x1="257.6" y1="509.65" x2="409.2" y2="509.65" stroke="#ededed" stroke-width="0.6"/>
<line x1="257.6" y1="492.3" x2="409.2" y2="492.3" stroke="#ededed" stroke-width="0.6"/>
<line x1="257.6" y1="474.95" x2="409.2" y2="474.95" stroke="#ededed" stroke-width="0.6"/>
<line x1="257.6" y1="457.6" x2="409.2" y2="457.6" stroke="#ededed" stroke-width="0.6"/>
<line x1="282.87" y1="449.5" x2="282.87" y2="566.3" stroke="#ededed" stroke-width="0.6"/>
<line x1="333.4" y1="449.5" x2="333.4" y2="566.3" stroke="#ededed" stroke-width="0.6"/>
<line x1="383.93" y1="449.5" x2="383.93" y2="566.3" stroke="#ededed" stroke-width="0.6"/>
<rect x="257.6" y="449.5" width="151.6" height="116.8" fill="none" stroke="#dedede" stroke-width="0.7"/>
<text transform="translate(254,564) scale(1,1.12)" text-anchor="end" font-size="5.0" font-style="italic" fill="#333333">50</text>
<text transform="translate(254,546.65) scale(1,1.12)" text-anchor="end" font-size="5.0" font-style="italic" fill="#333333">60</text>
<text transform="translate(254,529.3) scale(1,1.12)" text-anchor="end" font-size="5.0" font-style="italic" fill="#333333">70</text>
<text transform="translate(254,511.95) scale(1,1.12)" text-anchor="end" font-size="5.0" font-style="italic" fill="#333333">80</text>
<text transform="translate(254,494.6) scale(1,1.12)" text-anchor="end" font-size="5.0" font-style="italic" fill="#333333">90</text>
<text transform="translate(254,477.25) scale(1,1.12)" text-anchor="end" font-size="5.0" font-style="italic" fill="#333333">100</text>
<text transform="translate(254,459.9) scale(1,1.12)" text-anchor="end" font-size="5.0" font-style="italic" fill="#333333">110</text>
<text transform="translate(282.87,574) scale(1,1.12)" text-anchor="middle" font-size="5.0" font-style="italic" fill="#333333">T1</text>
<text transform="translate(333.4,574) scale(1,1.12)" text-anchor="middle" font-size="5.0" font-style="italic" fill="#333333">T2</text>
<text transform="translate(383.93,574) scale(1,1.12)" text-anchor="middle" font-size="5.0" font-style="italic" fill="#333333">T3</text>
<text transform="translate(333.4,580.4) scale(1,1.12)" text-anchor="middle" font-size="5.5" font-style="italic" fill="#333333">Timepoint</text>
<text transform="translate(242,508.5) rotate(-90) scale(1,1.12)" text-anchor="middle" font-size="5.6" font-style="italic" fill="#333333">Creatinine</text>
<text transform="translate(333.2,447.3) scale(1,1.12)" text-anchor="middle" font-size="5.6" font-style="italic" fill="#2a2a2a" style="stroke:#333;stroke-width:0.07px">Creatinine Evolution Over Time</text>
<path d="M281.2,480.2 L281.2,534.2 M278.1,480.2 L284.3,480.2 M278.1,534.2 L284.3,534.2 M331.9,454.6 L331.9,516.2 M328.8,454.6 L335,454.6 M328.8,516.2 L335,516.2 M382.3,458.9 L382.3,517.8 M379.2,458.9 L385.4,458.9 M379.2,517.8 L385.4,517.8" fill="none" stroke="#36608e" stroke-width="1.15"/>
<path d="M281.2,509.8 L331.9,487.4 L382.3,488.8" fill="none" stroke="#36608e" stroke-width="1.35"/>
<circle cx="281.2" cy="509.8" r="1.85" fill="#2e5d90"/>
<circle cx="331.9" cy="487.4" r="1.85" fill="#2e5d90"/>
<circle cx="382.3" cy="488.8" r="1.85" fill="#2e5d90"/>
<path d="M283.8,535.5 L283.8,560.7 M280.7,535.5 L286.9,535.5 M280.7,560.7 L286.9,560.7 M334.4,525.7 L334.4,547.8 M331.3,525.7 L337.5,525.7 M331.3,547.8 L337.5,547.8 M385.1,516.2 L385.1,541.9 M382,516.2 L388.2,516.2 M382,541.9 L388.2,541.9" fill="none" stroke="#d38f6b" stroke-width="1.15"/>
<path d="M283.8,548.3 L334.4,537.3 L385.1,530.3" fill="none" stroke="#d38f6b" stroke-width="1.2"/>
<circle cx="283.8" cy="548.3" r="1.85" fill="#e68a5c"/>
<circle cx="334.4" cy="537.3" r="1.85" fill="#e68a5c"/>
<circle cx="385.1" cy="530.3" r="1.85" fill="#e68a5c"/>
<text transform="translate(282.5,495.8) scale(1,0.95)" text-anchor="middle" font-size="4.0" font-style="italic" fill="#3a3a3a" style="stroke:none">p = 0.017</text>
<text transform="translate(332.6,471.4) scale(1,0.95)" text-anchor="middle" font-size="4.0" font-style="italic" fill="#3a3a3a" style="stroke:none">p = 0.007</text>
<text transform="translate(383.7,472.8) scale(1,0.95)" text-anchor="middle" font-size="4.0" font-style="italic" fill="#3a3a3a" style="stroke:none">p = 0.019</text>
<rect x="414.1" y="451.4" width="35.2" height="21.9" rx="1" fill="#fff" stroke="#e2e2e2" stroke-width="0.6"/>
<text transform="translate(431.7,457.5) scale(1,1.12)" text-anchor="middle" font-size="5.2" font-style="italic" fill="#333333">Group</text>
<circle cx="421" cy="462.5" r="2.05" fill="#335a85"/>
<text transform="translate(428.5,464.3) scale(1,1.12)" font-size="5.2" font-style="italic" fill="#333333">Infected</text>
<circle cx="421" cy="469.4" r="2.05" fill="#d68862"/>
<text transform="translate(428.5,471.2) scale(1,1.12)" font-size="5.2" font-style="italic" fill="#333333">Control</text>
<rect x="411.4" y="557.1" width="54.5" height="5.5" rx="0.9" fill="#fff" stroke="#555" stroke-width="0.55"/>
<text transform="translate(438.65,561.15) scale(1,1.0)" text-anchor="middle" font-size="3.9" font-style="normal" textLength="51.5" lengthAdjust="spacingAndGlyphs" fill="#222" style="stroke:#333;stroke-width:0.06px">Normal value: 21-75 µmol/L</text>
</g>
</svg></body></html>
